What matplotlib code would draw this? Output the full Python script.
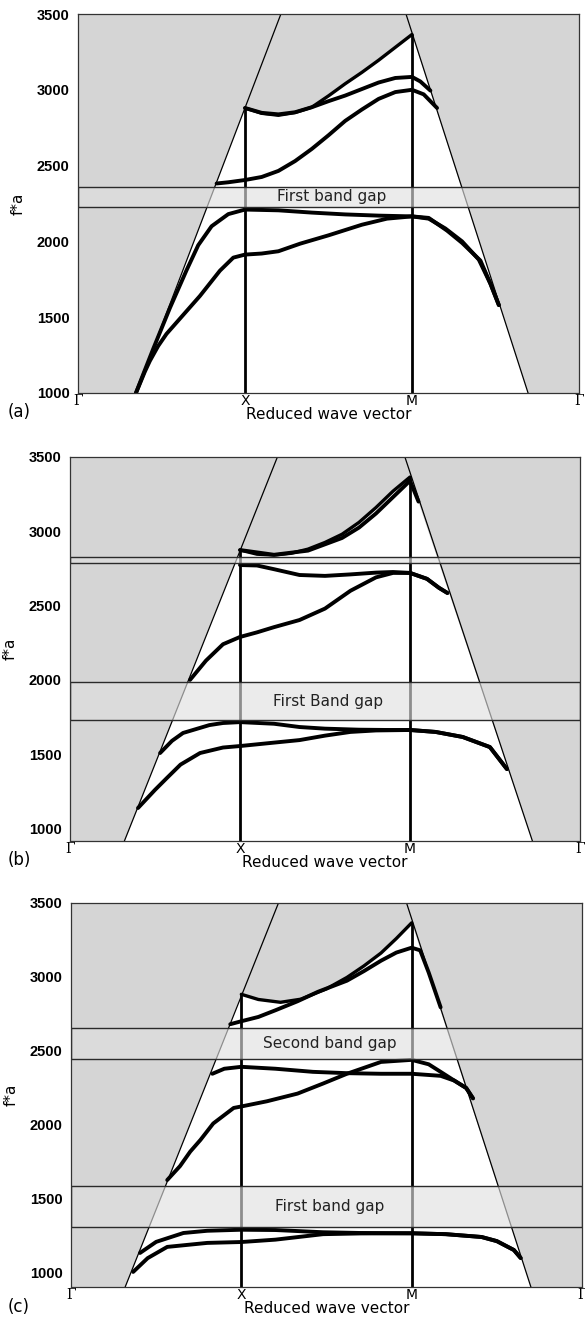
import matplotlib
matplotlib.use('Agg')
from matplotlib import pyplot as plt

W, H = 585, 1321

# reduced wave vector: Gamma=0, X=1, M=2, Gamma=3
tick_pos = [0, 1, 2, 3]
tick_names = ['\u0393', 'X', 'M', '\u0393']
ytick_vals = [1000, 1500, 2000, 2500, 3000, 3500]

# ---------------- panel (a) ----------------
a_ylim = (1000, 3500)
a_cone_left = ([0.347, 1.215], [1000, 3500])
a_cone_right = ([1.964, 2.695], [3500, 1000])
a_top_x = [1.0, 1.1, 1.2, 1.3, 1.4, 1.5, 1.6, 1.7, 1.8, 1.9, 2.0]
a_top_f = [2880, 2845, 2832, 2850, 2885, 2960, 3040, 3115, 3195, 3280, 3365]
a_b4_x = [1.0, 1.1, 1.2, 1.3, 1.4, 1.5, 1.6, 1.7, 1.8, 1.9, 2.0, 2.05, 2.11]
a_b4_f = [2880, 2848, 2838, 2852, 2885, 2925, 2962, 3005, 3048, 3078, 3085, 3055, 2995]
a_b3_x = [0.83, 0.9, 1.0, 1.1, 1.2, 1.3, 1.4, 1.5, 1.6, 1.7, 1.8, 1.9, 2.0, 2.07, 2.15]
a_b3_f = [2382, 2390, 2405, 2425, 2465, 2530, 2610, 2700, 2795, 2870, 2940, 2985, 3000, 2970, 2880]
a_b2_x = [0.347, 0.4, 0.45, 0.55, 0.65, 0.72, 0.8, 0.9, 1.0, 1.2, 1.4, 1.6, 1.8, 2.0,
          2.1, 2.2, 2.3, 2.4, 2.47, 2.52]
a_b2_f = [1000, 1150, 1290, 1560, 1810, 1975, 2100, 2180, 2210, 2205, 2190, 2178, 2170, 2165,
          2150, 2085, 2000, 1880, 1720, 1580]
a_b1_x = [0.347, 0.4, 0.43, 0.48, 0.53, 0.63, 0.73, 0.85, 0.93, 1.0, 1.1, 1.2, 1.33, 1.5, 1.7, 1.85,
          2.0, 2.1, 2.21, 2.3, 2.41, 2.47, 2.52]
a_b1_f = [1000, 1140, 1211, 1310, 1390, 1515, 1640, 1807, 1893, 1913, 1920, 1935, 1985, 2040, 2110, 2150,
          2165, 2155, 2071, 1990, 1873, 1720, 1580]
a_gaps = [(2224, 2362)]
a_gap_labels = ['First band gap']

# ---------------- panel (b) ----------------
b_ylim = (916, 3500)
b_cone_left = ([0.32, 1.22], [916, 3500])
b_cone_right = ([1.97, 2.72], [3500, 916])
b_top_x = [1.0, 1.1, 1.2, 1.3, 1.4, 1.5, 1.6, 1.7, 1.8, 1.9, 2.0]
b_top_f = [2874, 2846, 2840, 2852, 2880, 2925, 2980, 3060, 3160, 3270, 3365]
b_b5_x = [1.0, 1.2, 1.4, 1.6, 1.7, 1.8, 1.9, 2.0, 2.05]
b_b5_f = [2874, 2842, 2870, 2955, 3025, 3120, 3230, 3340, 3200]
b_b4_x = [1.0, 1.1, 1.2, 1.35, 1.5, 1.65, 1.8, 1.9, 2.0, 2.1, 2.17, 2.22]
b_b4_f = [2773, 2770, 2745, 2706, 2700, 2710, 2722, 2726, 2720, 2680, 2620, 2585]
b_b3_x = [0.706, 0.8, 0.9, 1.0, 1.1, 1.2, 1.35, 1.5, 1.65, 1.8, 1.9, 2.0, 2.1, 2.17, 2.22]
b_b3_f = [2000, 2130, 2240, 2289, 2320, 2355, 2403, 2480, 2600, 2690, 2720, 2720, 2680, 2620, 2585]
b_b2_x = [0.53, 0.6, 0.665, 0.82, 0.9, 1.0, 1.2, 1.35, 1.5, 1.7, 1.88, 2.0, 2.15, 2.31, 2.47, 2.57]
b_b2_f = [1508, 1590, 1643, 1696, 1710, 1716, 1705, 1683, 1672, 1665, 1663, 1663, 1650, 1616, 1548, 1400]
b_b1_x = [0.4, 0.5, 0.57, 0.65, 0.765, 0.9, 1.0, 1.2, 1.35, 1.5, 1.65, 1.8, 2.0, 2.15, 2.31, 2.47, 2.57]
b_b1_f = [1138, 1260, 1340, 1430, 1508, 1545, 1555, 1578, 1595, 1625, 1650, 1660, 1663, 1650, 1616, 1548, 1400]
b_gaps = [(1730, 1986), (2787, 2827)]
b_gap_labels = ['First Band gap', '']

# ---------------- panel (c) ----------------
c_ylim = (905, 3500)
c_cone_left = ([0.318, 1.218], [905, 3500])
c_cone_right = ([1.97, 2.70], [3500, 905])
c_top_x = [1.0, 1.1, 1.23, 1.35, 1.5, 1.62, 1.72, 1.82, 1.91, 2.0]
c_top_f = [2883, 2848, 2829, 2850, 2920, 2997, 3075, 3162, 3260, 3366]
c_b5_x = [0.935, 1.0, 1.1, 1.2, 1.33, 1.45, 1.62, 1.72, 1.82, 1.91, 2.0, 2.05, 2.1, 2.17]
c_b5_f = [2681, 2701, 2730, 2775, 2836, 2900, 2975, 3040, 3110, 3165, 3198, 3180, 3030, 2795]
c_b3_x = [0.83, 0.9, 1.0, 1.2, 1.42, 1.62, 1.82, 2.0, 2.17, 2.25, 2.32, 2.36]
c_b3_f = [2346, 2380, 2393, 2380, 2359, 2350, 2346, 2346, 2332, 2300, 2250, 2180]
c_b2_x = [0.565, 0.64, 0.7, 0.76, 0.835, 0.955, 1.0, 1.15, 1.33, 1.48, 1.62, 1.82, 2.0,
          2.1, 2.17, 2.25, 2.32, 2.36]
c_b2_f = [1628, 1722, 1820, 1899, 2010, 2115, 2125, 2160, 2212, 2280, 2346, 2426, 2440,
          2410, 2359, 2300, 2250, 2180]
c_b1u_x = [0.405, 0.5, 0.66, 0.8, 1.0, 1.2, 1.48, 1.7, 2.0, 2.2, 2.41, 2.5, 2.6, 2.64]
c_b1u_f = [1135, 1210, 1270, 1285, 1292, 1290, 1275, 1270, 1268, 1262, 1243, 1215, 1155, 1101]
c_b1l_x = [0.365, 0.45, 0.565, 0.8, 1.0, 1.2, 1.48, 1.7, 2.0, 2.2, 2.41, 2.5, 2.6, 2.64]
c_b1l_f = [1007, 1100, 1176, 1203, 1209, 1225, 1262, 1267, 1268, 1262, 1243, 1215, 1155, 1101]
c_gaps = [(1311, 1588), (2446, 2655)]
c_gap_labels = ['First band gap', 'Second band gap']

CONE_GREY = '#d5d5d5'


def px_axes(fig, left, right, top, bottom):
    return fig.add_axes([left / W, 1 - bottom / H, (right - left) / W, (bottom - top) / H])


def draw_panel(ax, ylim, cone_left, cone_right, top_x, top_f, bands, gaps, gap_labels):
    ymin, ymax = ylim
    ax.set_facecolor(CONE_GREY)
    # region below the sound cone is white
    poly_x = [cone_left[0][0]] + top_x + [cone_right[0][1]]
    poly_f = [ymin] + top_f + [ymin]
    ax.fill(poly_x, poly_f, color='white', lw=0, zorder=1)
    ax.plot(*cone_left, color='black', lw=0.9, zorder=2)
    ax.plot(*cone_right, color='black', lw=0.9, zorder=2)

    ax.vlines([1, 2], ymin, [top_f[0], top_f[-1]], color='black', lw=2.0, zorder=3)

    ax.plot(top_x, top_f, color='black', lw=2.4, solid_capstyle='round',
            solid_joinstyle='round', zorder=3)
    for bx, bf in bands:
        ax.plot(bx, bf, color='black', lw=2.8, solid_capstyle='round',
                solid_joinstyle='round', zorder=3)

    for (lo, hi), lab in zip(gaps, gap_labels):
        ax.axhspan(lo, hi, facecolor=(0.88, 0.88, 0.88, 0.63), edgecolor='#2a2a2a',
                   lw=1.0, zorder=4)
        if lab:
            ax.text(1.52, (lo + hi) / 2, lab, ha='center', va='center', fontsize=11,
                    color='#222222', family='DejaVu Sans', zorder=5)

    ax.set_xlim(0, 3)
    ax.set_ylim(ymin, ymax)
    ax.set_yticks(ytick_vals)
    ax.set_yticklabels([str(v) for v in ytick_vals], fontsize=10.5, fontweight='bold',
                       family='Liberation Sans')
    ax.set_xticks(tick_pos)
    ax.set_xticklabels(tick_names, fontsize=10)
    for i, lab in enumerate(ax.get_xticklabels()):
        if tick_names[i] == '\u0393':
            lab.set_family('DejaVu Serif')
    ax.tick_params(axis='both', length=0)
    ax.tick_params(axis='x', pad=1)
    ax.tick_params(axis='y', pad=6)
    for s in ax.spines.values():
        s.set_linewidth(0.9)
        s.set_color('#333333')
        s.set_zorder(6)
    ax.set_xlabel('Reduced wave vector', fontsize=11, labelpad=-1)
    ax.set_ylabel('f*a', fontsize=11, labelpad=8)


fig = plt.figure(figsize=(W / 100, H / 100), dpi=100)
fig.patch.set_facecolor('white')

ax_a = px_axes(fig, 78, 579, 14, 393)
draw_panel(ax_a, a_ylim, a_cone_left, a_cone_right, a_top_x, a_top_f,
           [(a_b4_x, a_b4_f), (a_b3_x, a_b3_f), (a_b2_x, a_b2_f), (a_b1_x, a_b1_f)],
           a_gaps, a_gap_labels)

ax_b = px_axes(fig, 70, 580, 457, 841)
draw_panel(ax_b, b_ylim, b_cone_left, b_cone_right, b_top_x, b_top_f,
           [(b_b5_x, b_b5_f), (b_b4_x, b_b4_f), (b_b3_x, b_b3_f), (b_b2_x, b_b2_f), (b_b1_x, b_b1_f)],
           b_gaps, b_gap_labels)

ax_c = px_axes(fig, 71, 582, 903, 1287)
draw_panel(ax_c, c_ylim, c_cone_left, c_cone_right, c_top_x, c_top_f,
           [(c_b5_x, c_b5_f), (c_b3_x, c_b3_f), (c_b2_x, c_b2_f), (c_b1u_x, c_b1u_f), (c_b1l_x, c_b1l_f)],
           c_gaps, c_gap_labels)

# panel tags sit at the far left, under each axes
for tag, ypx in [('(a)', 412), ('(b)', 860), ('(c)', 1307)]:
    fig.text(8 / W, 1 - ypx / H, tag, fontsize=12, ha='left', va='center')

fig.savefig('out.png', dpi=100)
